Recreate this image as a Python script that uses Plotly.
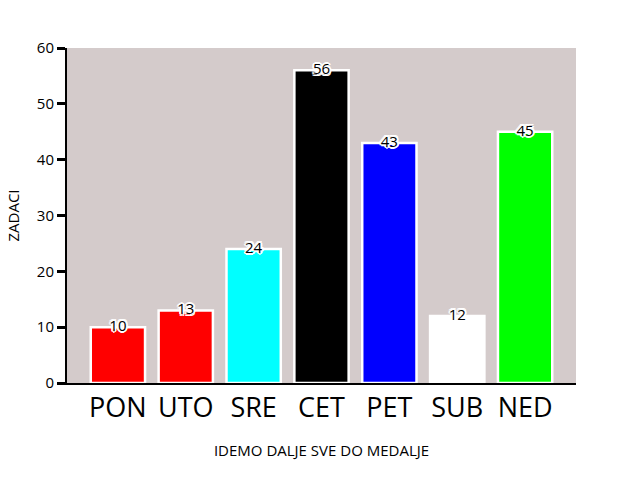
import plotly.graph_objects as go

days = ["PON", "UTO", "SRE", "CET", "PET", "SUB", "NED"]
tasks = [10, 13, 24, 56, 43, 12, 45]
colors = ["#ff0000", "#ff0000", "#00ffff", "#000000", "#0000ff", "#ffffff", "#00ff00"]
y_ticks = [0, 10, 20, 30, 40, 50, 60]

font_family = "Open Sans, DejaVu Sans, sans-serif"

fig = go.Figure()
fig.add_trace(go.Bar(
    x=list(range(len(days))), y=tasks, width=0.8,
    marker=dict(color=colors, line=dict(color="white", width=2.5)),
    hoverinfo="skip",
))
fig.add_trace(go.Scatter(
    x=list(range(len(days))), y=tasks, mode="text",
    text=[str(v) for v in tasks], textposition="middle center",
    textfont=dict(family=font_family, size=15, color="black",
                  shadow="-1.5px -1.5px 0 white, 1.5px -1.5px 0 white, -1.5px 1.5px 0 white, 1.5px 1.5px 0 white, 0 2px 0 white, 0 -2px 0 white, 2px 0 0 white, -2px 0 0 white"),
    hoverinfo="skip", cliponaxis=False,
))

fig.update_layout(
    width=640, height=480,
    margin=dict(l=64, r=64, t=48, b=97),
    paper_bgcolor="white", plot_bgcolor="#d4cbcb",
    showlegend=False,
    font=dict(family=font_family, color="black"),
    xaxis=dict(
        range=[-0.75, 6.75], tickmode="array",
        tickvals=list(range(len(days))), ticktext=days,
        tickfont=dict(size=27), showgrid=False, zeroline=False,
        showline=True, linecolor="black", linewidth=2, ticks="",
        title=dict(text="IDEMO DALJE SVE DO MEDALJE", font=dict(size=15), standoff=21),
    ),
    yaxis=dict(
        range=[0, 60], tickmode="array", tickvals=y_ticks,
        tickfont=dict(size=15), showgrid=False, zeroline=False,
        showline=True, linecolor="black", linewidth=2,
        ticks="outside", ticklen=8, tickwidth=3, tickcolor="black",
        title=dict(text="ZADACI", font=dict(size=15), standoff=14),
    ),
)

fig.write_html("out.html", config={"displayModeBar": False},
               post_script="document.body.style.margin='0';")
